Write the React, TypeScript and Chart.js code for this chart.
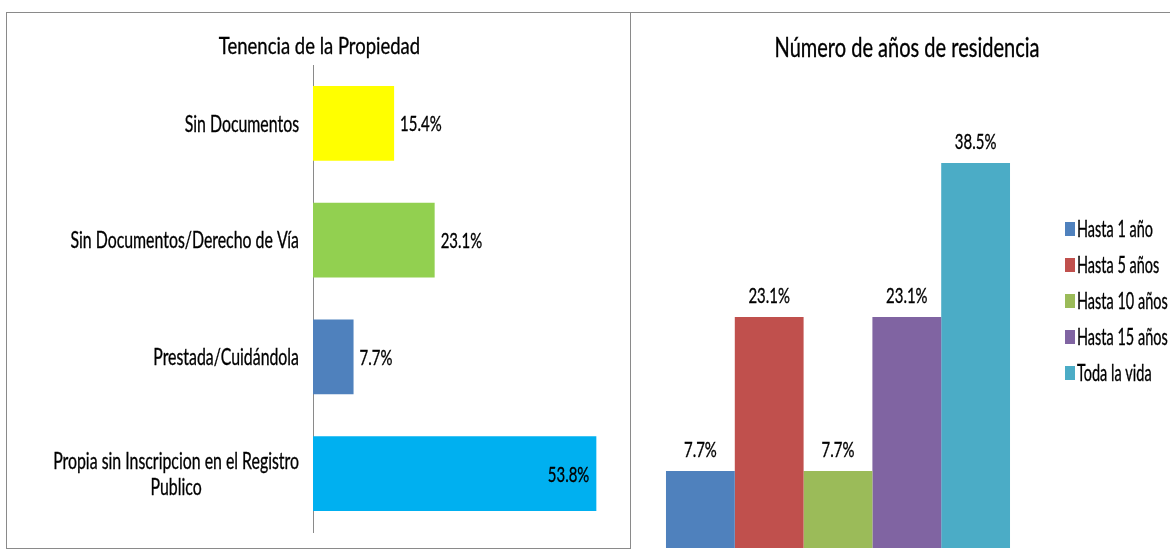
import React, { useEffect, useRef } from "react";
import { Chart, registerables } from "chart.js";

Chart.register(...registerables);

const FONT = "Lato, 'Open Sans', sans-serif";
const TEXT = "#000000";
const CAP = 0.7165; // cap height ratio of the font

// ---- Left chart: Tenencia de la Propiedad ----
const tenureTitle = "Tenencia de la Propiedad";
const tenureCategories: string[][] = [
  ["Sin Documentos"],
  ["Sin Documentos/Derecho de Vía"],
  ["Prestada/Cuidándola"],
  ["Propia sin Inscripcion en el Registro", "Publico"],
];
const tenureValues = [15.4, 23.1, 7.7, 53.8];
const tenureColors = ["#FFFF00", "#92D050", "#4F81BD", "#00B0F0"];

// ---- Right chart: Número de años de residencia ----
const residenceTitle = "Número de años de residencia";
const residenceSeries = ["Hasta 1 año", "Hasta 5 años", "Hasta 10 años", "Hasta 15 años", "Toda la vida"];
const residenceValues = [7.7, 23.1, 7.7, 23.1, 38.5];
const residenceColors = ["#4F81BD", "#C0504D", "#9BBB59", "#8064A2", "#4BACC6"];

const fmt = (v: number) => v.toFixed(1) + "%";

// text styles: font size and horizontal squeeze
const ST_LEFT_TITLE = { size: 24, sx: 0.77 };
const ST_LEFT_LABEL = { size: 23, sx: 0.69 };
const ST_LEFT_VALUE = { size: 22, sx: 0.68 };
const ST_RIGHT_TITLE = { size: 26, sx: 0.77 };
const ST_RIGHT_VALUE = { size: 22, sx: 0.68 };
const ST_LEGEND = { size: 23, sx: 0.63 };

type Style = { size: number; sx: number };

function measure(ctx: CanvasRenderingContext2D, text: string, st: Style) {
  ctx.save();
  ctx.font = `${st.size}px ${FONT}`;
  const w = ctx.measureText(text).width * st.sx;
  ctx.restore();
  return w;
}

// draws text whose cap-height centre sits at cy
function drawText(
  ctx: CanvasRenderingContext2D,
  text: string,
  x: number,
  cy: number,
  align: CanvasTextAlign,
  st: Style
) {
  ctx.save();
  ctx.font = `${st.size}px ${FONT}`;
  ctx.fillStyle = TEXT;
  ctx.strokeStyle = TEXT;
  ctx.lineWidth = 0.35;
  ctx.textBaseline = "alphabetic";
  ctx.textAlign = align;
  ctx.translate(x, cy + (st.size * CAP) / 2);
  ctx.scale(st.sx, 1);
  ctx.fillText(text, 0, 0);
  ctx.strokeText(text, 0, 0);
  ctx.restore();
}

const tenureLabelsPlugin = {
  id: "tenureLabels",
  afterDatasetsDraw(chart: any) {
    const { ctx, chartArea, width } = chart;
    const yScale = chart.scales.y;
    // title
    drawText(ctx, tenureTitle, width / 2 + 1, 32, "center", ST_LEFT_TITLE);
    // category labels (right-aligned block, lines centred within it)
    tenureCategories.forEach((lines, i) => {
      const yc = yScale.getPixelForValue(i);
      const blockW = Math.max(...lines.map((l) => measure(ctx, l, ST_LEFT_LABEL)));
      const cx = chartArea.left - 14 - blockW / 2;
      const lh = 26;
      lines.forEach((line, j) => {
        drawText(ctx, line, cx, yc + (j - (lines.length - 1) / 2) * lh, "center", ST_LEFT_LABEL);
      });
    });
    // value labels
    const meta = chart.getDatasetMeta(0);
    meta.data.forEach((el: any, i: number) => {
      const v = tenureValues[i];
      if (v > 40) drawText(ctx, fmt(v), el.x - 7, el.y, "right", ST_LEFT_VALUE);
      else drawText(ctx, fmt(v), el.x + 6, el.y, "left", ST_LEFT_VALUE);
    });
  },
};

const residenceLabelsPlugin = {
  id: "residenceLabels",
  afterDatasetsDraw(chart: any) {
    const { ctx, chartArea } = chart;
    // title
    drawText(ctx, residenceTitle, 276, 35, "center", ST_RIGHT_TITLE);
    // value labels above bars
    chart.data.datasets.forEach((ds: any, di: number) => {
      const meta = chart.getDatasetMeta(di);
      meta.data.forEach((el: any, i: number) => {
        drawText(ctx, fmt(ds.data[i]), el.x, el.y - 22, "center", ST_RIGHT_VALUE);
      });
    });
    // legend
    const step = 36;
    const n = chart.data.datasets.length;
    const midY = (chartArea.top + chartArea.bottom) / 2 - 4;
    const boxX = chartArea.right + 20;
    chart.data.datasets.forEach((ds: any, i: number) => {
      const cy = midY + (i - (n - 1) / 2) * step;
      ctx.save();
      ctx.fillStyle = ds.backgroundColor;
      ctx.fillRect(boxX, cy - 7, 10, 14);
      ctx.restore();
      drawText(ctx, ds.label, boxX + 12, cy, "left", ST_LEGEND);
    });
  },
};

export default function App() {
  const leftRef = useRef<HTMLCanvasElement>(null);
  const rightRef = useRef<HTMLCanvasElement>(null);

  useEffect(() => {
    Chart.defaults.font.family = FONT;
    Chart.defaults.color = TEXT;

    const leftCanvas = leftRef.current!;
    leftCanvas.width = 623;
    leftCanvas.height = 535;
    const left = new Chart(leftCanvas, {
      type: "bar",
      data: {
        labels: tenureCategories.map((l) => l.join(" ")),
        datasets: [
          {
            data: tenureValues,
            backgroundColor: tenureColors,
            barPercentage: 0.64,
            categoryPercentage: 1,
          },
        ],
      },
      options: {
        indexAxis: "y",
        responsive: false,
        animation: false,
        layout: { padding: { left: 0, right: 1, top: 52, bottom: 16 } },
        plugins: {
          legend: { display: false },
          tooltip: { enabled: false },
          title: { display: false },
        },
        scales: {
          x: { display: false, min: 0, max: 60 },
          y: {
            display: true,
            grid: { display: false },
            ticks: { display: false },
            border: { display: true, color: "#8a8a8a", width: 1 },
            afterFit: (scale: any) => {
              scale.width = 306;
            },
          },
        },
      },
      plugins: [tenureLabelsPlugin],
    } as any);

    const rightCanvas = rightRef.current!;
    rightCanvas.width = 539;
    rightCanvas.height = 536;
    const right = new Chart(rightCanvas, {
      type: "bar",
      data: {
        labels: [""],
        datasets: residenceSeries.map((s, i) => ({
          label: s,
          data: [residenceValues[i]],
          backgroundColor: residenceColors[i],
          barPercentage: 1,
          categoryPercentage: 0.831,
        })),
      },
      options: {
        responsive: false,
        animation: false,
        layout: { padding: { top: 49, right: 125, bottom: 1, left: 0 } },
        plugins: {
          tooltip: { enabled: false },
          title: { display: false },
          legend: { display: false },
        },
        scales: {
          x: { display: false },
          y: { display: false, min: 0, max: 48.6 },
        },
      },
      plugins: [residenceLabelsPlugin],
    } as any);

    return () => {
      left.destroy();
      right.destroy();
    };
  }, []);

  return (
    <div
      style={{
        position: "fixed",
        left: 0,
        top: 0,
        width: 1170,
        height: 549,
        overflow: "hidden",
        background: "#fff",
      }}
    >
      <div
        style={{
          position: "absolute",
          left: 6,
          top: 12,
          width: 625,
          height: 537,
          boxSizing: "border-box",
          border: "1px solid #8a8a8a",
        }}
      />
      <div
        style={{
          position: "absolute",
          left: 630,
          top: 12,
          width: 540,
          height: 1,
          background: "#8a8a8a",
        }}
      />
      <div
        style={{
          position: "absolute",
          left: 630,
          top: 12,
          width: 1,
          height: 537,
          background: "#8a8a8a",
        }}
      />
      <canvas ref={leftRef} style={{ position: "absolute", left: 7, top: 13, display: "block" }} />
      <canvas ref={rightRef} style={{ position: "absolute", left: 631, top: 13, display: "block" }} />
    </div>
  );
}
